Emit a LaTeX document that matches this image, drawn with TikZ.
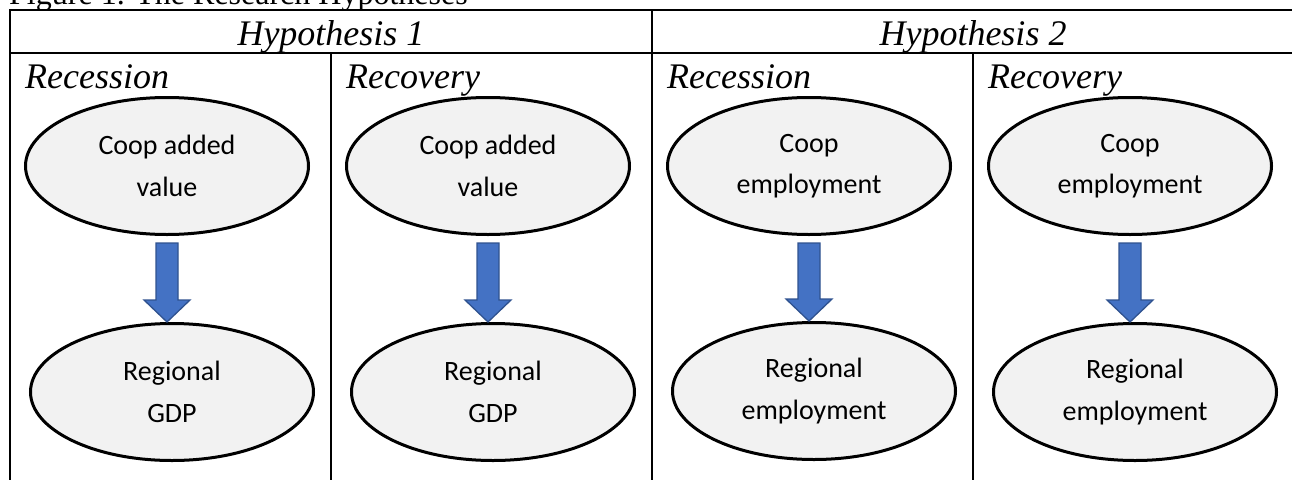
\documentclass[tikz,border=0pt]{standalone}
\usepackage{fontspec}
\setmainfont{Liberation Serif}
\newfontfamily\calib{Carlito}
\usetikzlibrary{shapes.geometric,calc}
\definecolor{ellfill}{HTML}{F2F2F2}
\definecolor{arrfill}{HTML}{4472C4}
\definecolor{arrdraw}{HTML}{2F528F}
\tikzset{
  grid/.style={line width=2.8pt, line cap=rect},
  oval/.style={ellipse, draw=black, line width=3pt, fill=ellfill,
    minimum width=283pt, minimum height=137pt, inner sep=0pt,
    align=center, font=\calib\fontsize{28}{41.5}\selectfont},
  hyp/.style={font=\itshape\fontsize{36}{40}\selectfont, anchor=base, inner sep=0pt},
  phase/.style={font=\itshape\fontsize{36}{40}\selectfont, anchor=base west, inner sep=0pt},
  blockarrow/.style={fill=arrfill, draw=arrdraw, line width=1.3pt, line join=miter}
}
\newcommand\blockarr[2]{%
  \draw[blockarrow] ($(#1.south)+(-11,7)$) -- ($(#1.south)+(11,7)$)
    -- ($(#1.south |- #2.north)+(11,-22)$) -- ($(#1.south |- #2.north)+(23,-22)$)
    -- ($(#1.south |- #2.north)$) -- ($(#1.south |- #2.north)+(-23,-22)$)
    -- ($(#1.south |- #2.north)+(-11,-22)$) -- cycle;}
\begin{document}
\begin{tikzpicture}[x=1pt,y=-1pt]
\useasboundingbox (0,0) rectangle (1292,479);
\begin{scope}
\clip (0,0) rectangle (1292,479);
% title (cropped at the top, as in the original)
\node[font=\fontsize{32}{36}\selectfont, anchor=base west, inner sep=0pt] (title) at (9,5) {Figure 1. The Research Hypotheses};
% table rules
\coordinate (tl) at (10,10);
\coordinate (tr) at (1300,10);
\coordinate (ml) at (10,53);
\coordinate (mr) at (1300,53);
\draw[grid] (tl) -- (tr);
\draw[grid] (ml) -- (mr);
\draw[grid] (tl) -- (10,490);
\draw[grid] (652,10) -- (652,490);
\draw[grid] (331,53) -- (331,490);
\draw[grid] (973,53) -- (973,490);
% headers
\node[hyp] (h1) at (331,45) {Hypothesis 1};
\node[hyp] (h2) at (973,45) {Hypothesis 2};
\node[phase] (p1) at (25,88) {Recession};
\node[phase] (p2) at (346,88) {Recovery};
\node[phase] (p3) at (667,88) {Recession};
\node[phase] (p4) at (988,88) {Recovery};
% ovals
\node[oval] (a1) at (167,166) {Coop added\\value};
\node[oval] (b1) at (172,392) {Regional\\GDP};
\node[oval] (a2) at (488,166) {Coop added\\value};
\node[oval] (b2) at (493,392) {Regional\\GDP};
\node[oval] (a3) at (809,166) {Coop\\employment};
\node[oval] (b3) at (814,391) {Regional\\employment};
\node[oval] (a4) at (1130,166) {Coop\\employment};
\node[oval] (b4) at (1135,392) {Regional\\employment};
\blockarr{a1}{b1}
\blockarr{a2}{b2}
\blockarr{a3}{b3}
\blockarr{a4}{b4}
\end{scope}
\end{tikzpicture}
\end{document}
